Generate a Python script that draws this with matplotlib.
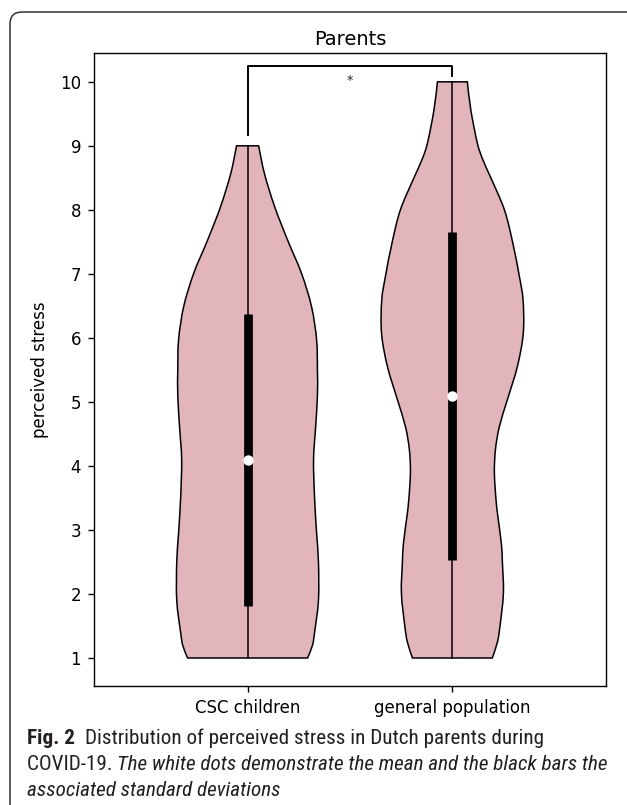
import matplotlib
matplotlib.use("Agg")
import matplotlib.pyplot as plt
from matplotlib.patches import FancyBboxPatch, PathPatch
from matplotlib.path import Path
from matplotlib.transforms import IdentityTransform
from matplotlib import font_manager

plt.rcParams["font.family"] = ["DejaVu Sans"]

# ---------------- data ----------------
categories = ["CSC children", "general population"]
title = "Parents"
ylabel = "perceived stress"
yticks = [1, 2, 3, 4, 5, 6, 7, 8, 9, 10]

# violin outline: y levels and half-widths (data units)
csc_y = [1.0, 1.2, 1.4, 1.9, 2.5, 2.95, 3.5, 4.1, 4.6, 5.1, 5.5, 5.97, 6.49, 7.01, 7.53,
         8.05, 8.57, 9.0]
csc_half = [0.293, 0.317, 0.327, 0.346, 0.346, 0.337, 0.327, 0.322, 0.332, 0.341, 0.341,
            0.337, 0.312, 0.263, 0.195, 0.132, 0.082, 0.054]
gen_y = [1.0, 1.25, 1.49, 2.01, 2.5, 2.79, 3.21, 3.47, 3.89, 4.25, 4.61, 5.03, 5.55, 6.07,
         6.59, 6.96, 7.48, 8.0, 8.52, 8.78, 9.04, 9.56, 10.0]
gen_half = [0.195, 0.220, 0.232, 0.249, 0.244, 0.239, 0.222, 0.213, 0.205, 0.210, 0.229,
            0.268, 0.317, 0.346, 0.345, 0.327, 0.295, 0.254, 0.185, 0.149, 0.122, 0.090, 0.073]

means = [4.1, 5.1]
sd_low = [1.81, 2.53]
sd_high = [6.37, 7.66]
mins = [1.0, 1.0]
maxs = [9.0, 10.0]

bracket_left_end = 9.17
bracket_top = 10.25
bracket_right_end = 10.09
star_y = 10.02
sig_label = "*"

caption_lines = [
    [("Fig. 2", "bold", "normal"), ("  ", "normal", "normal"),
     ("Distribution of perceived stress in Dutch parents during", "normal", "normal")],
    [("COVID-19. ", "normal", "normal"),
     ("The white dots demonstrate the mean and the black bars the", "normal", "italic")],
    [("associated standard deviations", "normal", "italic")],
]

# ---------------- style ----------------
W, H = 627, 805
DPI = 100
violin_color = "#e2b5bb"
fig = plt.figure(figsize=(W / DPI, H / DPI), dpi=DPI)

ax = fig.add_axes([94 / W, 1 - 686 / H, (606 - 94) / W, (686 - 53) / H])


def smooth_side(pts):
    """Catmull-Rom curve through the points, expressed as cubic Bezier segments."""
    verts, codes = [], []
    n = len(pts)
    for k in range(n - 1):
        p0 = pts[k - 1] if k > 0 else pts[k]
        p1 = pts[k]
        p2 = pts[k + 1]
        p3 = pts[k + 2] if k + 2 < n else pts[k + 1]
        c1 = (p1[0] + (p2[0] - p0[0]) / 6, p1[1] + (p2[1] - p0[1]) / 6)
        c2 = (p2[0] - (p3[0] - p1[0]) / 6, p2[1] - (p3[1] - p1[1]) / 6)
        verts += [c1, c2, p2]
        codes += [Path.CURVE4] * 3
    return verts, codes


profiles = [(csc_y, csc_half), (gen_y, gen_half)]
for i, (ys, hw) in enumerate(profiles):
    right = [(i + h, y) for y, h in zip(ys, hw)]
    left = [(i - h, y) for y, h in zip(ys, hw)][::-1]
    verts = [right[0]]
    codes = [Path.MOVETO]
    v, c = smooth_side(right)
    verts += v
    codes += c
    verts.append(left[0])
    codes.append(Path.LINETO)
    v, c = smooth_side(left)
    verts += v
    codes += c
    verts.append(right[0])
    codes.append(Path.CLOSEPOLY)
    ax.add_patch(PathPatch(Path(verts, codes), facecolor=violin_color,
                           edgecolor="black", linewidth=1.1, zorder=2))
    ax.plot([i, i], [mins[i], maxs[i]], color="black", linewidth=1.1, zorder=3)
    ax.plot([i, i], [sd_low[i], sd_high[i]], color="black", linewidth=6.3,
            solid_capstyle="butt", zorder=4)
    ax.plot([i], [means[i]], marker="o", markersize=7.5, color="white",
            markeredgewidth=0, zorder=5)

# significance bracket
ax.plot([0, 0, 1, 1], [bracket_left_end, bracket_top, bracket_top, bracket_right_end],
        color="black", linewidth=1.4, zorder=3)
ax.text(0.5, star_y, sig_label, ha="center", va="center", fontsize=9, color="#222222")

ax.set_xlim(-0.75, 1.75)
ax.set_ylim(0.5625, 10.45)
ax.set_xticks([0, 1])
ax.set_xticklabels(categories, fontsize=12)
ax.set_yticks(yticks)
ax.set_yticklabels([str(t) for t in yticks], fontsize=12)
ax.tick_params(length=4.2, width=1.0, pad=5)
ax.set_ylabel(ylabel, fontsize=12, labelpad=8)
ax.set_title(title, fontsize=14, pad=6)
for s in ax.spines.values():
    s.set_linewidth(1.0)

# outer caption frame (extends past right and bottom edges)
frame = FancyBboxPatch((10, -30), 660, (H - 12) + 30,
                       boxstyle="round,pad=0,rounding_size=12",
                       transform=IdentityTransform(), facecolor="none",
                       edgecolor="#333333", linewidth=1.1, zorder=0)
fig.patches.append(frame)

# caption
avail = {f.name for f in font_manager.fontManager.ttflist}
cap_family = "DejaVu Sans"
for fam in ["Liberation Sans Narrow", "Roboto Condensed", "Open Sans", "Roboto"]:
    if fam in avail:
        cap_family = fam
        break

renderer = fig.canvas.get_renderer()


def run_width(txt, weight, style, size):
    t = fig.text(0, 0, txt, fontsize=size, fontweight=weight, fontstyle=style,
                 family=cap_family)
    w = t.get_window_extent(renderer).width
    t.remove()
    return w


# fit font size so the second line spans from x=27 to x=607
base = 10.0
w2 = sum(run_width(t, wt, st, base) for t, wt, st in caption_lines[1])
cap_size = base * 580 / w2

baselines = [744, 770, 796]
for line, yb in zip(caption_lines, baselines):
    x = 27
    for txt, wt, st in line:
        fig.text(x / W, 1 - yb / H, txt, fontsize=cap_size, fontweight=wt, fontstyle=st,
                 family=cap_family, color="#231f20", va="baseline", ha="left")
        x += run_width(txt, wt, st, cap_size)

fig.savefig("out.png", dpi=DPI)
